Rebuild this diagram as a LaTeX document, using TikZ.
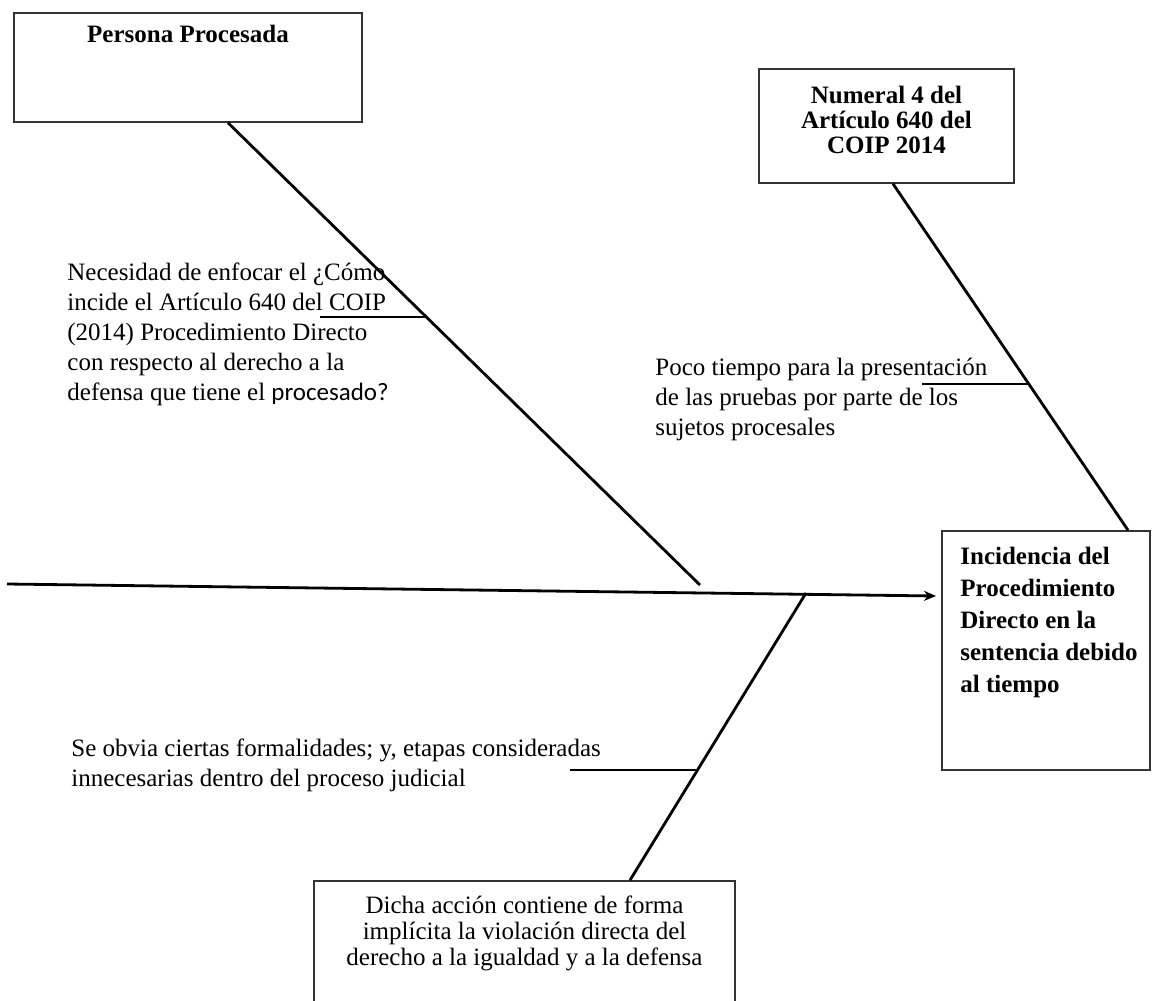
\documentclass[tikz,border=0pt]{standalone}
\usepackage{fontspec}
\setmainfont{Liberation Serif}
\newfontfamily\sansproc{Carlito}
\usetikzlibrary{positioning,calc,arrows.meta}

\tikzset{
  box/.style={draw=black!80, line width=0.8pt, rectangle, inner sep=0pt},
  boxtext/.style={font=\fontsize{12.5}{12}\selectfont\bfseries, align=flush center, inner sep=0pt},
  cause/.style={font=\fontsize{12.5}{12}\selectfont, align=flush left, inner sep=0pt, anchor=north west},
  bone/.style={line width=1.4pt},
  spine/.style={->,>={Stealth[length=6pt,width=5pt]},line width=1.4pt}
}

\begin{document}
\begin{tikzpicture}[x=0.5pt,y=-0.5pt]
	\useasboundingbox (0,0) rectangle (1153,1001);
	
	% boxes
	\node[box, minimum width=174pt, minimum height=54.5pt] (persona) at (188,67.5) {};
	\node[boxtext] (personatxt) at (188,34) {Persona Procesada};
	\node[box, minimum width=127.5pt, minimum height=57pt] (numeral) at (886.5,126) {};
	\node[boxtext, text width=120pt] (numeraltxt) at (886.5,120) {Numeral 4 del\\[0.5pt]Artículo 640 del\\[0.5pt]COIP 2014};
	\node[box, minimum width=104pt, minimum height=119.5pt] (incid) at (1046,650.5) {};
	\node[boxtext, align=flush left, text width=95pt, anchor=north west] (incidtxt) at (960,547) {Incidencia del\\[4pt]Procedimiento\\[4pt]Directo en la\\[4pt]sentencia debido\\[4pt]al tiempo};
	\node[box, minimum width=210.5pt, minimum height=65pt] (dicha) at (524.5,946) {};
	\node[font=\fontsize{12.5}{12}\selectfont, align=flush center, text width=205pt, inner sep=0pt] (dichatxt) at (524.5,933) {Dicha acción contiene de forma\\[1pt]implícita la violación directa del\\[1pt]derecho a la igualdad y a la defensa};
	
	% causes
	\node[cause, text width=190pt] (necesidad) at (67,262) {Necesidad de enfocar el ¿Cómo\\[3pt]incide el Artículo 640 del COIP\\[3pt](2014) Procedimiento Directo\\[3pt]con respecto al derecho a la\\[3pt]defensa que tiene el {\sansproc procesado?}};
	\node[cause, text width=185pt] (poco) at (655,358) {Poco tiempo para la presentación\\[3pt]de las pruebas por parte de los\\[3pt]sujetos procesales};
	\node[cause, text width=300pt] (obvia) at (71,738) {Se obvia ciertas formalidades; y, etapas consideradas\\[3pt]innecesarias dentro del proceso judicial};
	
	% spine
	\coordinate (tail) at (7,584);
	\coordinate (head) at (936,596);
	\draw[spine] (tail) -- (head);
	
	% bones
	\coordinate (joint1) at (700,585);
	\coordinate (joint3) at (806,593);
	\draw[bone] ([xshift=20pt]persona.south) -- (joint1);
	\draw[bone] ([xshift=3.25pt]numeral.south) -- ([xshift=41pt]incid.north);
	\draw[bone] ([xshift=52.75pt]dicha.north) -- (joint3);
	
	% small bones
	\coordinate (s1a) at (320,317);
	\coordinate (s1b) at (427,317);
	\coordinate (s2a) at (922,384);
	\coordinate (s2b) at (1029,384);
	\coordinate (s3a) at (570,770);
	\coordinate (s3b) at (698,770);
	\draw[bone] (s1a) -- (s1b);
	\draw[bone] (s2a) -- (s2b);
	\draw[bone] (s3a) -- (s3b);
\end{tikzpicture}
\end{document}
